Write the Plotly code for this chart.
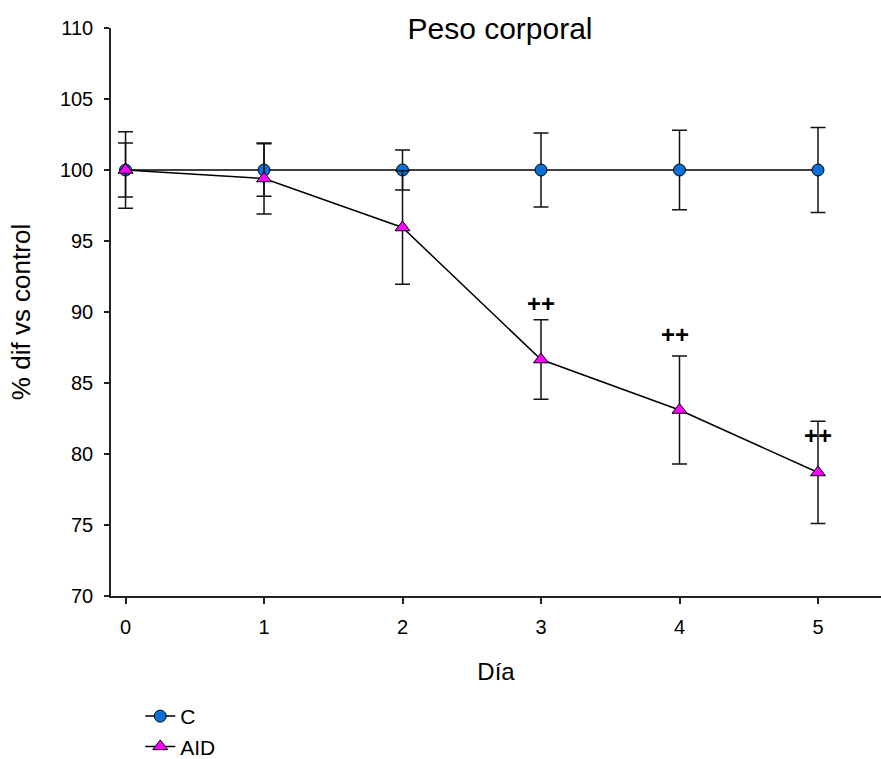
import plotly.graph_objects as go

days = [0, 1, 2, 3, 4, 5]
c_mean = [100, 100, 100, 100, 100, 100]
c_err = [2.7, 1.85, 1.4, 2.6, 2.8, 3.0]
aid_mean = [100, 99.4, 95.95, 86.65, 83.1, 78.7]
aid_err = [1.9, 2.5, 4.0, 2.8, 3.8, 3.6]
sig_x = [3, 3.97, 5]
sig_y = [90.6, 88.45, 81.3]
sig_text = ["++", "++", "++"]

FONT = "Arial, Liberation Sans, sans-serif"
W, H = 881, 759
L, R, T, B = 111, 0, 28, 163

fig = go.Figure()
fig.add_trace(go.Scatter(
    x=days, y=c_mean, name="C", mode="lines+markers",
    line=dict(color="black", width=1.5),
    marker=dict(symbol="circle", size=12, color="#0a6fd6", line=dict(color="black", width=1)),
    error_y=dict(type="data", array=c_err, visible=True, color="#111", thickness=1.5, width=7.5),
))
fig.add_trace(go.Scatter(
    x=days, y=aid_mean, name="AID", mode="lines+markers",
    line=dict(color="black", width=1.5),
    marker=dict(symbol="triangle-up", size=13, color="#ff00ff", line=dict(color="black", width=1)),
    error_y=dict(type="data", array=aid_err, visible=True, color="#111", thickness=1.5, width=7.5),
))

for xs, ys, t in zip(sig_x, sig_y, sig_text):
    fig.add_annotation(x=xs, y=ys, text="<b>" + t + "</b>", showarrow=False, xref="x", yref="y",
                       font=dict(family=FONT, size=24, color="black"))

fig.update_layout(
    width=W, height=H,
    margin=dict(l=L, r=R, t=T, b=B, autoexpand=False),
    plot_bgcolor="white", paper_bgcolor="white",
    font=dict(family=FONT, size=20, color="black"),
    title=dict(text="Peso corporal", x=(500 - L) / (W - L - R), xref="paper", xanchor="center",
               y=1 - 28 / H, yref="container", yanchor="middle",
               font=dict(family=FONT, size=30, color="black")),
    showlegend=True,
    legend=dict(x=0.038, y=-0.176, xanchor="left", yanchor="top", xref="paper", yref="paper",
                font=dict(family=FONT, size=21), bgcolor="rgba(0,0,0,0)", tracegroupgap=0),
    xaxis=dict(range=[-0.105, 5.455], tickvals=days, ticks="outside", ticklen=6, tickwidth=1.5,
               tickcolor="#222", showline=True, linecolor="#222", linewidth=1.5, showgrid=False,
               zeroline=False, tickfont=dict(size=20), ticklabelstandoff=6, automargin=False,
               title=dict(text="Día", font=dict(size=24), standoff=26)),
    yaxis=dict(range=[70, 110], tickvals=[70, 75, 80, 85, 90, 95, 100, 105, 110], ticks="outside",
               ticklen=5, tickwidth=1.5, tickcolor="#222", showline=True, linecolor="#222",
               linewidth=1.5, showgrid=False, zeroline=False, tickfont=dict(size=20),
               ticklabelstandoff=7, automargin=False,
               title=dict(text="% dif vs control", font=dict(size=26), standoff=22)),
)

fig.write_html("out.html")
